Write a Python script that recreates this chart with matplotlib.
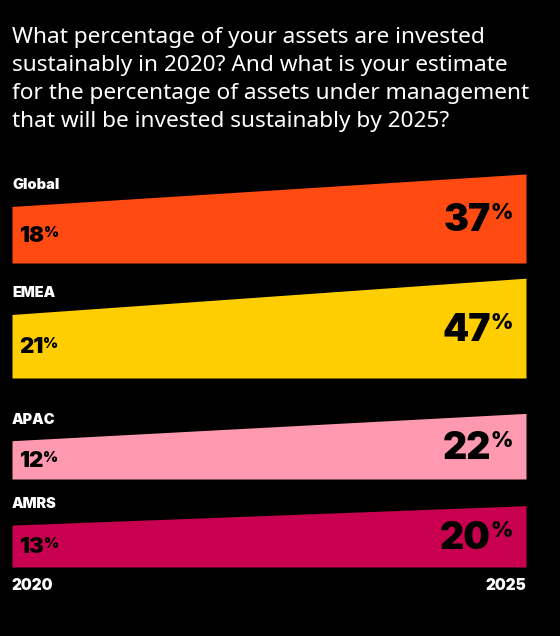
import matplotlib
matplotlib.use("Agg")
import matplotlib.pyplot as plt
import numpy as np

# ---- data ----
regions = ["Global", "EMEA", "APAC", "AMRS"]
pct_2020 = [18, 21, 12, 13]
pct_2025 = [37, 47, 22, 20]
years = [2020, 2025]
year_labels = ["2020", "2025"]
colors = ["#FF4A12", "#FFCE00", "#FF99B0", "#C8004F"]

title = ("What percentage of your assets are invested\n"
         "sustainably in 2020? And what is your estimate\n"
         "for the percentage of assets under management\n"
         "that will be invested sustainably by 2025?")

# ---- layout ----
W, H, DPI = 560, 636, 100
fig = plt.figure(figsize=(W / DPI, H / DPI), dpi=DPI, facecolor="black")

BOLD = dict(family=["Inter", "DejaVu Sans"], weight="black")
YMIN, YMAX = 5.13, 60.0        # log-scaled value axis of each band
PX_PER_LN = 45.07              # pixels per natural-log unit
band_bottoms = [263, 378, 479, 567]   # pixel baselines of each band
x_left, x_right = 12, 526

fig.text(12 / W, 1 - 27 / H, title, color="white", ha="left", va="top",
         fontsize=16.3, family=["Noto Sans", "DejaVu Sans"], linespacing=1.43)

for i, reg in enumerate(regions):
    hpx = PX_PER_LN * np.log(YMAX / YMIN)
    ax = fig.add_axes([x_left / W, 1 - band_bottoms[i] / H,
                       (x_right - x_left) / W, hpx / H])
    ax.set_yscale("log")
    ax.set_xlim(years[0], years[1])
    ax.set_ylim(YMIN, YMAX)
    ax.axis("off")
    ax.patch.set_alpha(0)
    ax.fill_between(years, [pct_2020[i], pct_2025[i]], YMIN,
                    color=colors[i], lw=0)

    ax.annotate(reg, xy=(years[0], pct_2020[i]), xytext=(0, 21),
                textcoords="offset pixels", ha="left", va="center",
                color="white", fontsize=10.5, annotation_clip=False, **BOLD)

    # left value (centred on the left edge)
    yl = np.sqrt(pct_2020[i] * YMIN)
    t = ax.annotate(str(pct_2020[i]), xy=(years[0], yl), xytext=(7, -1),
                    textcoords="offset pixels", ha="left", va="center",
                    color="black", fontsize=16, annotation_clip=False, **BOLD)
    ax.annotate("%", xy=(1, 1), xycoords=t, xytext=(0, 0),
                textcoords="offset pixels", ha="left", va="top",
                color="black", fontsize=10.5, annotation_clip=False, **BOLD)

    # right value
    yr = np.sqrt(pct_2025[i] * YMIN)
    t = ax.annotate(str(pct_2025[i]), xy=(years[1], yr), xytext=(-35, -3),
                    textcoords="offset pixels", ha="right", va="center",
                    color="black", fontsize=27, annotation_clip=False, **BOLD)
    ax.annotate("%", xy=(1, 1), xycoords=t, xytext=(-1, 0),
                textcoords="offset pixels", ha="left", va="top",
                color="black", fontsize=15.5, annotation_clip=False, **BOLD)

fig.text(x_left / W, 1 - 585 / H, year_labels[0], color="white", ha="left",
         va="center", fontsize=11, **BOLD)
fig.text(x_right / W, 1 - 585 / H, year_labels[1], color="white", ha="right",
         va="center", fontsize=11, **BOLD)

fig.savefig("out.png", dpi=DPI, facecolor="black")
